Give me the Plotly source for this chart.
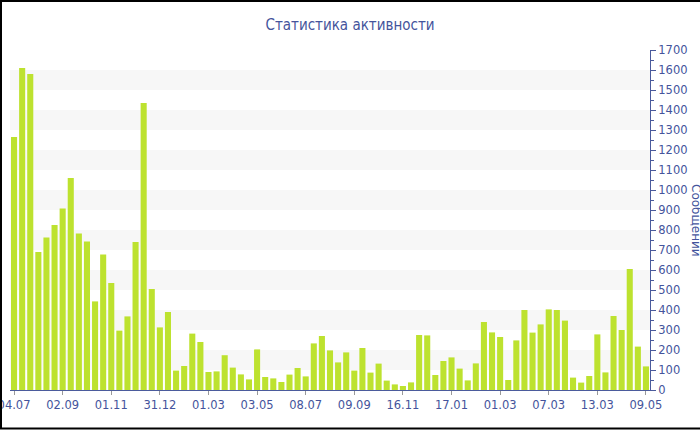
import plotly.graph_objects as go

values = [1265, 1610, 1580, 690, 763, 825, 907, 1060, 782, 742,
          443, 678, 535, 297, 368, 740, 1435, 505, 313, 390,
          97, 120, 282, 240, 90, 93, 174, 112, 78, 53,
          203, 65, 58, 40, 77, 110, 68, 233, 270, 198,
          138, 188, 97, 210, 87, 132, 47, 28, 20, 38,
          275, 273, 75, 145, 163, 107, 48, 133, 340, 288,
          265, 50, 248, 400, 287, 328, 403, 400, 347, 62,
          37, 70, 278, 88, 370, 300, 605, 217, 118]
tick_labels = ["04.07", "02.09", "01.11", "31.12", "01.03", "03.05", "08.07",
               "09.09", "16.11", "17.01", "01.03", "07.03", "13.03", "09.05"]
tick_step = 6
title_text = "Статистика активности"
y_title = "Сообщений"

x = list(range(len(values)))
tickvals = [i * tick_step for i in range(len(tick_labels))]

axis_color = "#4b5b9c"
text_color = "#44549c"
font_family = "DejaVu Sans"
title_family = "DejaVu Sans Condensed, DejaVu Sans"

W, H = 700, 430
ml, mr, mt, mb = 10, 50, 50, 40
pw, ph = W - ml - mr, H - mt - mb

fig = go.Figure()
fig.add_trace(go.Bar(x=x, y=values, marker=dict(color="#bde22f", line=dict(width=0)),
                     hoverinfo="y"))

shapes = []
for lo in range(100, 1700, 200):
    shapes.append(dict(type="rect", xref="paper", yref="y", x0=0, x1=1, y0=lo, y1=lo + 100,
                       fillcolor="#f7f7f7", line=dict(width=0), layer="below"))

def px_to_paper_x(px):
    return (px - ml) / pw

def px_to_paper_y(py):
    return (H - mb - py) / ph

shapes.append(dict(type="rect", xref="paper", yref="paper",
                   x0=px_to_paper_x(1), x1=px_to_paper_x(760),
                   y0=px_to_paper_y(428.5), y1=px_to_paper_y(1),
                   line=dict(color="black", width=2), fillcolor="rgba(0,0,0,0)"))

fig.update_layout(
    width=W, height=H,
    margin=dict(l=ml, r=mr, t=mt, b=mb, pad=0, autoexpand=False),
    paper_bgcolor="white", plot_bgcolor="white",
    font=dict(family=font_family, color=text_color, size=11),
    title=dict(text=title_text, x=0.5, xref="container", xanchor="center",
               y=1 - 25 / H, yanchor="middle",
               font=dict(size=15, color=text_color, family=title_family)),
    bargap=0.25,
    showlegend=False,
    shapes=shapes,
    xaxis=dict(range=[-0.5, len(values) - 0.5], tickmode="array", tickvals=tickvals,
               ticktext=tick_labels, showgrid=False, zeroline=False, showline=True,
               linecolor=axis_color, linewidth=1, ticks="outside", ticklen=4,
               tickcolor="#999999", tickfont=dict(size=11.5, color=text_color),
               automargin=False, ticklabeloverflow="allow"),
    yaxis=dict(side="right", range=[0, 1700], dtick=100, tick0=0, showgrid=False,
               zeroline=False, showline=True, linecolor=axis_color, linewidth=1,
               ticks="outside", ticklen=5, tickcolor=axis_color,
               tickfont=dict(size=11.5, color=text_color),
               automargin=False, ticklabeloverflow="allow",
               minor=dict(dtick=50, ticks="outside", ticklen=3, tickcolor=axis_color)),
    annotations=[dict(text=y_title, xref="paper", yref="paper", x=px_to_paper_x(696), y=0.5,
                      xanchor="center", yanchor="middle", textangle=90, showarrow=False,
                      font=dict(size=12, color=text_color, family=font_family))],
)

fig.write_html("out.html", config={"displayModeBar": False},
               post_script="document.body.style.margin='0';document.body.style.overflow='hidden';")
